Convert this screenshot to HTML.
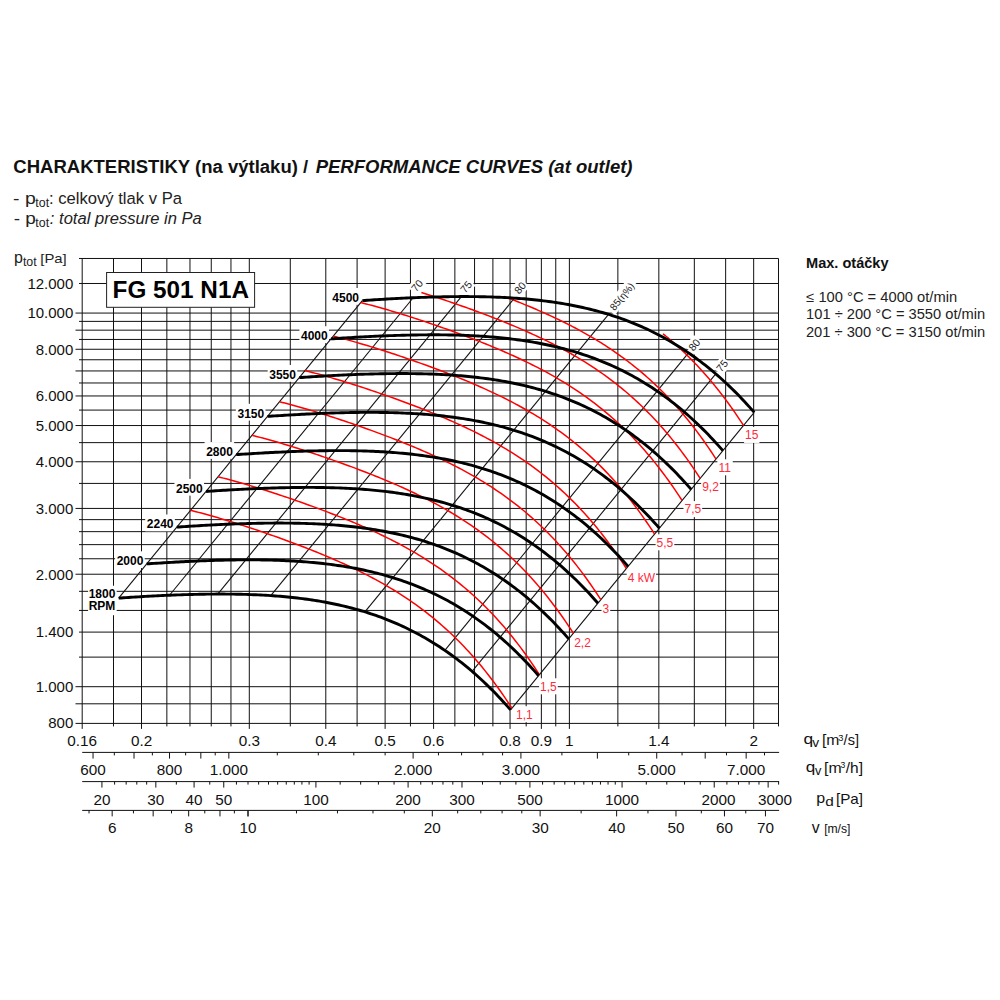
<!DOCTYPE html>
<html><head><meta charset="utf-8"><style>html,body{margin:0;padding:0;background:#fff;}svg{display:block;}</style></head>
<body><svg width="1000" height="1000" viewBox="0 0 1000 1000" font-family="'Liberation Sans', sans-serif">
<rect width="1000" height="1000" fill="#fff"/>
<g stroke="#111" stroke-width="1" shape-rendering="auto"><line x1="82.19" y1="258.47" x2="82.19" y2="728.90"/><line x1="113.50" y1="258.47" x2="113.50" y2="726.40"/><line x1="141.51" y1="258.47" x2="141.51" y2="728.90"/><line x1="166.85" y1="258.47" x2="166.85" y2="726.40"/><line x1="189.98" y1="258.47" x2="189.98" y2="726.40"/><line x1="211.26" y1="258.47" x2="211.26" y2="726.40"/><line x1="230.96" y1="258.47" x2="230.96" y2="726.40"/><line x1="249.30" y1="258.47" x2="249.30" y2="728.90"/><line x1="290.29" y1="258.47" x2="290.29" y2="726.40"/><line x1="325.79" y1="258.47" x2="325.79" y2="728.90"/><line x1="357.10" y1="258.47" x2="357.10" y2="726.40"/><line x1="385.11" y1="258.47" x2="385.11" y2="728.90"/><line x1="410.45" y1="258.47" x2="410.45" y2="726.40"/><line x1="433.58" y1="258.47" x2="433.58" y2="728.90"/><line x1="454.86" y1="258.47" x2="454.86" y2="726.40"/><line x1="474.56" y1="258.47" x2="474.56" y2="726.40"/><line x1="492.90" y1="258.47" x2="492.90" y2="726.40"/><line x1="510.06" y1="258.47" x2="510.06" y2="728.90"/><line x1="526.18" y1="258.47" x2="526.18" y2="726.40"/><line x1="541.37" y1="258.47" x2="541.37" y2="728.90"/><line x1="555.75" y1="258.47" x2="555.75" y2="726.40"/><line x1="569.38" y1="258.47" x2="569.38" y2="728.90"/><line x1="617.86" y1="258.47" x2="617.86" y2="726.40"/><line x1="658.84" y1="258.47" x2="658.84" y2="728.90"/><line x1="694.34" y1="258.47" x2="694.34" y2="726.40"/><line x1="725.65" y1="258.47" x2="725.65" y2="726.40"/><line x1="753.66" y1="258.47" x2="753.66" y2="728.90"/><line x1="778.50" y1="258.47" x2="778.50" y2="726.40"/><line x1="79.0" y1="258.47" x2="778.50" y2="258.47"/><line x1="79.0" y1="283.49" x2="778.50" y2="283.49"/><line x1="75.5" y1="313.07" x2="778.50" y2="313.07"/><line x1="79.0" y1="321.39" x2="778.50" y2="321.39"/><line x1="75.5" y1="330.17" x2="778.50" y2="330.17"/><line x1="79.0" y1="339.44" x2="778.50" y2="339.44"/><line x1="75.5" y1="349.28" x2="778.50" y2="349.28"/><line x1="79.0" y1="359.75" x2="778.50" y2="359.75"/><line x1="75.5" y1="370.95" x2="778.50" y2="370.95"/><line x1="79.0" y1="382.97" x2="778.50" y2="382.97"/><line x1="75.5" y1="395.96" x2="778.50" y2="395.96"/><line x1="79.0" y1="410.08" x2="778.50" y2="410.08"/><line x1="75.5" y1="425.54" x2="778.50" y2="425.54"/><line x1="79.0" y1="442.64" x2="778.50" y2="442.64"/><line x1="75.5" y1="461.75" x2="778.50" y2="461.75"/><line x1="79.0" y1="483.42" x2="778.50" y2="483.42"/><line x1="75.5" y1="508.43" x2="778.50" y2="508.43"/><line x1="79.0" y1="519.63" x2="778.50" y2="519.63"/><line x1="79.0" y1="531.65" x2="778.50" y2="531.65"/><line x1="79.0" y1="544.64" x2="778.50" y2="544.64"/><line x1="79.0" y1="558.76" x2="778.50" y2="558.76"/><line x1="75.5" y1="574.23" x2="778.50" y2="574.23"/><line x1="79.0" y1="591.32" x2="778.50" y2="591.32"/><line x1="79.0" y1="610.43" x2="778.50" y2="610.43"/><line x1="79.0" y1="632.10" x2="778.50" y2="632.10"/><line x1="79.0" y1="657.12" x2="778.50" y2="657.12"/><line x1="75.5" y1="686.70" x2="778.50" y2="686.70"/><line x1="75.5" y1="703.80" x2="778.50" y2="703.80"/><line x1="75.5" y1="723.40" x2="778.50" y2="723.40"/></g>
<g stroke="#111" stroke-width="1"><line x1="82.19" y1="752.4" x2="779.10" y2="752.4"/><line x1="82.19" y1="781.6" x2="779.10" y2="781.6"/><line x1="82.19" y1="810.4" x2="779.10" y2="810.4"/><line x1="93.04" y1="752.4" x2="93.04" y2="758.6"/><line x1="114.32" y1="752.4" x2="114.32" y2="755.4"/><line x1="134.02" y1="752.4" x2="134.02" y2="758.6"/><line x1="152.36" y1="752.4" x2="152.36" y2="755.4"/><line x1="169.52" y1="752.4" x2="169.52" y2="758.6"/><line x1="185.64" y1="752.4" x2="185.64" y2="755.4"/><line x1="200.83" y1="752.4" x2="200.83" y2="758.6"/><line x1="215.21" y1="752.4" x2="215.21" y2="755.4"/><line x1="228.84" y1="752.4" x2="228.84" y2="758.6"/><line x1="277.31" y1="752.4" x2="277.31" y2="755.4"/><line x1="318.30" y1="752.4" x2="318.30" y2="755.4"/><line x1="353.80" y1="752.4" x2="353.80" y2="755.4"/><line x1="385.11" y1="752.4" x2="385.11" y2="755.4"/><line x1="413.12" y1="752.4" x2="413.12" y2="758.6"/><line x1="438.46" y1="752.4" x2="438.46" y2="755.4"/><line x1="461.59" y1="752.4" x2="461.59" y2="755.4"/><line x1="482.87" y1="752.4" x2="482.87" y2="755.4"/><line x1="502.57" y1="752.4" x2="502.57" y2="755.4"/><line x1="520.91" y1="752.4" x2="520.91" y2="758.6"/><line x1="561.90" y1="752.4" x2="561.90" y2="755.4"/><line x1="597.39" y1="752.4" x2="597.39" y2="758.6"/><line x1="628.71" y1="752.4" x2="628.71" y2="755.4"/><line x1="656.72" y1="752.4" x2="656.72" y2="758.6"/><line x1="682.06" y1="752.4" x2="682.06" y2="755.4"/><line x1="705.19" y1="752.4" x2="705.19" y2="758.6"/><line x1="726.47" y1="752.4" x2="726.47" y2="755.4"/><line x1="746.17" y1="752.4" x2="746.17" y2="758.6"/><line x1="764.51" y1="752.4" x2="764.51" y2="755.4"/><line x1="101.93" y1="781.6" x2="101.93" y2="787.6"/><line x1="114.60" y1="781.6" x2="114.60" y2="784.6"/><line x1="126.17" y1="781.6" x2="126.17" y2="784.6"/><line x1="136.81" y1="781.6" x2="136.81" y2="784.6"/><line x1="146.67" y1="781.6" x2="146.67" y2="784.6"/><line x1="155.84" y1="781.6" x2="155.84" y2="787.6"/><line x1="176.34" y1="781.6" x2="176.34" y2="784.6"/><line x1="194.09" y1="781.6" x2="194.09" y2="787.6"/><line x1="209.75" y1="781.6" x2="209.75" y2="784.6"/><line x1="223.76" y1="781.6" x2="223.76" y2="787.6"/><line x1="236.43" y1="781.6" x2="236.43" y2="784.6"/><line x1="248.00" y1="781.6" x2="248.00" y2="784.6"/><line x1="258.64" y1="781.6" x2="258.64" y2="784.6"/><line x1="268.50" y1="781.6" x2="268.50" y2="784.6"/><line x1="277.67" y1="781.6" x2="277.67" y2="784.6"/><line x1="286.25" y1="781.6" x2="286.25" y2="784.6"/><line x1="294.31" y1="781.6" x2="294.31" y2="784.6"/><line x1="301.91" y1="781.6" x2="301.91" y2="784.6"/><line x1="309.10" y1="781.6" x2="309.10" y2="784.6"/><line x1="315.92" y1="781.6" x2="315.92" y2="787.6"/><line x1="340.16" y1="781.6" x2="340.16" y2="784.6"/><line x1="360.66" y1="781.6" x2="360.66" y2="784.6"/><line x1="378.41" y1="781.6" x2="378.41" y2="784.6"/><line x1="394.07" y1="781.6" x2="394.07" y2="784.6"/><line x1="408.08" y1="781.6" x2="408.08" y2="787.6"/><line x1="420.75" y1="781.6" x2="420.75" y2="784.6"/><line x1="432.32" y1="781.6" x2="432.32" y2="784.6"/><line x1="442.96" y1="781.6" x2="442.96" y2="784.6"/><line x1="452.82" y1="781.6" x2="452.82" y2="784.6"/><line x1="461.99" y1="781.6" x2="461.99" y2="787.6"/><line x1="482.49" y1="781.6" x2="482.49" y2="784.6"/><line x1="500.24" y1="781.6" x2="500.24" y2="784.6"/><line x1="515.90" y1="781.6" x2="515.90" y2="784.6"/><line x1="529.91" y1="781.6" x2="529.91" y2="787.6"/><line x1="542.58" y1="781.6" x2="542.58" y2="784.6"/><line x1="554.15" y1="781.6" x2="554.15" y2="784.6"/><line x1="564.79" y1="781.6" x2="564.79" y2="784.6"/><line x1="574.65" y1="781.6" x2="574.65" y2="784.6"/><line x1="583.82" y1="781.6" x2="583.82" y2="784.6"/><line x1="592.40" y1="781.6" x2="592.40" y2="784.6"/><line x1="600.46" y1="781.6" x2="600.46" y2="784.6"/><line x1="608.06" y1="781.6" x2="608.06" y2="784.6"/><line x1="615.25" y1="781.6" x2="615.25" y2="784.6"/><line x1="622.07" y1="781.6" x2="622.07" y2="787.6"/><line x1="646.31" y1="781.6" x2="646.31" y2="784.6"/><line x1="666.81" y1="781.6" x2="666.81" y2="784.6"/><line x1="684.56" y1="781.6" x2="684.56" y2="784.6"/><line x1="700.22" y1="781.6" x2="700.22" y2="784.6"/><line x1="714.23" y1="781.6" x2="714.23" y2="787.6"/><line x1="726.90" y1="781.6" x2="726.90" y2="784.6"/><line x1="738.47" y1="781.6" x2="738.47" y2="784.6"/><line x1="749.11" y1="781.6" x2="749.11" y2="784.6"/><line x1="758.97" y1="781.6" x2="758.97" y2="784.6"/><line x1="768.14" y1="781.6" x2="768.14" y2="787.6"/><line x1="778.60" y1="781.6" x2="778.60" y2="784.6"/><line x1="89.02" y1="810.4" x2="89.02" y2="813.4"/><line x1="112.16" y1="810.4" x2="112.16" y2="816.4"/><line x1="133.45" y1="810.4" x2="133.45" y2="813.4"/><line x1="153.15" y1="810.4" x2="153.15" y2="816.4"/><line x1="171.50" y1="810.4" x2="171.50" y2="813.4"/><line x1="188.66" y1="810.4" x2="188.66" y2="816.4"/><line x1="204.78" y1="810.4" x2="204.78" y2="813.4"/><line x1="219.98" y1="810.4" x2="219.98" y2="816.4"/><line x1="234.36" y1="810.4" x2="234.36" y2="813.4"/><line x1="248.00" y1="810.4" x2="248.00" y2="816.4"/><line x1="248.00" y1="810.4" x2="248.00" y2="816.4"/><line x1="296.48" y1="810.4" x2="296.48" y2="813.4"/><line x1="337.47" y1="810.4" x2="337.47" y2="813.4"/><line x1="372.98" y1="810.4" x2="372.98" y2="813.4"/><line x1="404.30" y1="810.4" x2="404.30" y2="813.4"/><line x1="432.32" y1="810.4" x2="432.32" y2="816.4"/><line x1="457.67" y1="810.4" x2="457.67" y2="813.4"/><line x1="480.80" y1="810.4" x2="480.80" y2="813.4"/><line x1="502.09" y1="810.4" x2="502.09" y2="813.4"/><line x1="521.79" y1="810.4" x2="521.79" y2="813.4"/><line x1="540.14" y1="810.4" x2="540.14" y2="816.4"/><line x1="581.13" y1="810.4" x2="581.13" y2="813.4"/><line x1="616.64" y1="810.4" x2="616.64" y2="816.4"/><line x1="647.96" y1="810.4" x2="647.96" y2="813.4"/><line x1="675.98" y1="810.4" x2="675.98" y2="816.4"/><line x1="701.32" y1="810.4" x2="701.32" y2="813.4"/><line x1="724.46" y1="810.4" x2="724.46" y2="816.4"/><line x1="745.75" y1="810.4" x2="745.75" y2="813.4"/><line x1="765.45" y1="810.4" x2="765.45" y2="816.4"/></g>
<rect x="106.6" y="272.5" width="148" height="34.8" fill="#fff" stroke="#222" stroke-width="1"/>
<text x="112.6" y="298" font-size="24.3" font-weight="bold" fill="#000">FG 501 N1A</text>
<g fill="#fff"><rect x="330.73" y="288.01" width="29.60" height="16.80"/><rect x="299.41" y="326.25" width="29.60" height="16.80"/><rect x="267.67" y="365.00" width="29.60" height="16.80"/><rect x="235.88" y="403.81" width="29.60" height="16.80"/><rect x="204.56" y="442.05" width="29.60" height="16.80"/><rect x="174.43" y="478.85" width="29.60" height="16.80"/><rect x="145.23" y="514.50" width="29.60" height="16.80"/><rect x="115.09" y="551.30" width="29.60" height="16.80"/><rect x="88.07" y="585.71" width="28.60" height="29.50"/></g>
<g fill="#fff"><rect x="514.99" y="706.20" width="18.68" height="16.0"/><rect x="539.09" y="678.30" width="18.68" height="16.0"/><rect x="573.20" y="634.60" width="18.68" height="16.0"/><rect x="601.54" y="600.50" width="8.67" height="16.0"/><rect x="626.72" y="569.50" width="29.33" height="16.0"/><rect x="655.62" y="534.30" width="18.68" height="16.0"/><rect x="683.48" y="501.10" width="18.68" height="16.0"/><rect x="701.14" y="478.30" width="18.68" height="16.0"/><rect x="717.39" y="459.30" width="15.35" height="16.0"/><rect x="744.09" y="426.95" width="15.35" height="16.0"/></g>
<g font-size="10.5" fill="#222"><g transform="translate(417.10,285.60) rotate(-50.68)"><rect x="-7.34" y="-6.5" width="14.68" height="13" fill="#fff"/><text x="0" y="3.8" text-anchor="middle" font-size="10.5">70</text></g><g transform="translate(466.00,286.80) rotate(-50.68)"><rect x="-7.34" y="-6.5" width="14.68" height="13" fill="#fff"/><text x="0" y="3.8" text-anchor="middle" font-size="10.5">75</text></g><g transform="translate(520.00,287.80) rotate(-50.68)"><rect x="-7.34" y="-6.5" width="14.68" height="13" fill="#fff"/><text x="0" y="3.8" text-anchor="middle" font-size="10.5">80</text></g><g transform="translate(621.75,296.25) rotate(-50.68)"><rect x="-18.82" y="-6.5" width="37.65" height="13" fill="#fff"/><text x="0" y="3.8" text-anchor="middle" font-size="10.0">85(&#951;%)</text></g><g transform="translate(694.25,344.85) rotate(-50.68)"><rect x="-7.34" y="-6.5" width="14.68" height="13" fill="#fff"/><text x="0" y="3.8" text-anchor="middle" font-size="10.5">80</text></g><g transform="translate(722.00,365.70) rotate(-50.68)"><rect x="-7.34" y="-6.5" width="14.68" height="13" fill="#fff"/><text x="0" y="3.8" text-anchor="middle" font-size="10.5">75</text></g></g>
<g stroke="#111" stroke-width="1.1" fill="none"><line x1="362.33" y1="300.61" x2="118.67" y2="598.11"/><line x1="413.17" y1="297.73" x2="169.51" y2="595.23"/><line x1="461.38" y1="296.57" x2="217.72" y2="594.07"/><line x1="514.43" y1="298.10" x2="270.77" y2="595.60"/><line x1="608.56" y1="314.37" x2="364.90" y2="611.87"/><line x1="688.50" y1="352.87" x2="444.84" y2="650.37"/><line x1="715.76" y1="373.88" x2="472.10" y2="671.38"/><line x1="754.23" y1="412.40" x2="510.58" y2="709.90"/></g>
<g stroke="#ff0000" stroke-width="1.5" fill="none"><path d="M190.57,510.32 L193.25,510.99 L195.93,511.67 L198.61,512.37 L201.28,513.08 L203.96,513.81 L206.64,514.54 L209.32,515.29 L212.00,516.05 L214.67,516.81 L217.35,517.59 L220.03,518.38 L222.71,519.18 L225.39,519.99 L228.06,520.80 L230.74,521.63 L233.42,522.46 L236.10,523.30 L238.78,524.15 L241.45,525.01 L244.13,525.87 L246.81,526.74 L249.49,527.62 L252.17,528.51 L254.84,529.41 L257.52,530.31 L260.20,531.22 L262.88,532.13 L265.56,533.05 L268.23,533.98 L270.91,534.92 L273.59,535.86 L276.27,536.82 L278.94,537.77 L281.62,538.74 L284.30,539.71 L286.98,540.69 L289.66,541.68 L292.33,542.68 L295.01,543.69 L297.69,544.70 L300.37,545.72 L303.05,546.75 L305.72,547.79 L308.40,548.84 L311.08,549.90 L313.76,550.97 L316.44,552.05 L319.11,553.14 L321.79,554.25 L324.47,555.36 L327.15,556.49 L329.83,557.63 L332.50,558.78 L335.18,559.94 L337.86,561.12 L340.54,562.32 L343.22,563.53 L345.89,564.75 L348.57,565.99 L351.25,567.25 L353.93,568.53 L356.61,569.82 L359.28,571.14 L361.96,572.47 L364.64,573.82 L367.32,575.19 L370.00,576.59 L372.67,578.01 L375.35,579.45 L378.03,580.91 L380.71,582.41 L383.39,583.92 L386.06,585.46 L388.74,587.03 L391.42,588.63 L394.10,590.26 L396.77,591.92 L399.45,593.61 L402.13,595.33 L404.81,597.08 L407.49,598.87 L410.16,600.69 L412.84,602.55 L415.52,604.45 L418.20,606.39 L420.88,608.36 L423.55,610.38 L426.23,612.44 L428.91,614.54 L431.59,616.68 L434.27,618.87 L436.94,621.11 L439.62,623.39 L442.30,625.73 L444.98,628.11 L447.66,630.55 L450.33,633.04 L453.01,635.58 L455.69,638.18 L458.37,640.84 L461.05,643.55 L463.72,646.33 L466.40,649.16 L469.08,652.06 L471.76,655.02 L474.44,658.05 L477.11,661.15 L479.79,664.31 L482.47,667.55 L485.15,670.86 L487.83,674.24 L490.50,677.69 L493.18,681.23 L495.86,684.84 L498.54,688.53 L501.21,692.30 L503.89,696.16 L506.57,700.10 L509.25,704.13 L511.93,708.25"/><path d="M218.06,476.75 L220.74,477.42 L223.42,478.11 L226.10,478.81 L228.78,479.52 L231.45,480.24 L234.13,480.98 L236.81,481.72 L239.49,482.48 L242.17,483.25 L244.84,484.03 L247.52,484.81 L250.20,485.61 L252.88,486.42 L255.56,487.23 L258.23,488.06 L260.91,488.89 L263.59,489.73 L266.27,490.58 L268.95,491.44 L271.62,492.31 L274.30,493.18 L276.98,494.06 L279.66,494.94 L282.34,495.84 L285.01,496.74 L287.69,497.65 L290.37,498.56 L293.05,499.49 L295.73,500.42 L298.40,501.35 L301.08,502.30 L303.76,503.25 L306.44,504.21 L309.11,505.17 L311.79,506.15 L314.47,507.13 L317.15,508.12 L319.83,509.11 L322.50,510.12 L325.18,511.13 L327.86,512.15 L330.54,513.19 L333.22,514.23 L335.89,515.28 L338.57,516.33 L341.25,517.40 L343.93,518.49 L346.61,519.58 L349.28,520.68 L351.96,521.79 L354.64,522.92 L357.32,524.06 L360.00,525.21 L362.67,526.38 L365.35,527.56 L368.03,528.75 L370.71,529.96 L373.39,531.19 L376.06,532.43 L378.74,533.69 L381.42,534.96 L384.10,536.26 L386.78,537.57 L389.45,538.90 L392.13,540.25 L394.81,541.63 L397.49,543.02 L400.17,544.44 L402.84,545.88 L405.52,547.35 L408.20,548.84 L410.88,550.35 L413.55,551.90 L416.23,553.47 L418.91,555.07 L421.59,556.69 L424.27,558.35 L426.94,560.04 L429.62,561.76 L432.30,563.52 L434.98,565.30 L437.66,567.13 L440.33,568.99 L443.01,570.89 L445.69,572.82 L448.37,574.80 L451.05,576.81 L453.72,578.87 L456.40,580.97 L459.08,583.12 L461.76,585.31 L464.44,587.54 L467.11,589.83 L469.79,592.16 L472.47,594.55 L475.15,596.98 L477.83,599.47 L480.50,602.01 L483.18,604.61 L485.86,607.27 L488.54,609.98 L491.22,612.76 L493.89,615.59 L496.57,618.49 L499.25,621.46 L501.93,624.49 L504.61,627.58 L507.28,630.75 L509.96,633.98 L512.64,637.29 L515.32,640.67 L517.99,644.13 L520.67,647.66 L523.35,651.27 L526.03,654.96 L528.71,658.74 L531.38,662.60 L534.06,666.54 L536.74,670.57 L539.42,674.69"/><path d="M252.01,435.30 L254.69,435.97 L257.37,436.66 L260.05,437.36 L262.72,438.07 L265.40,438.79 L268.08,439.53 L270.76,440.27 L273.44,441.03 L276.11,441.80 L278.79,442.58 L281.47,443.36 L284.15,444.16 L286.83,444.97 L289.50,445.78 L292.18,446.61 L294.86,447.44 L297.54,448.28 L300.22,449.13 L302.89,449.99 L305.57,450.86 L308.25,451.73 L310.93,452.61 L313.61,453.49 L316.28,454.39 L318.96,455.29 L321.64,456.20 L324.32,457.11 L327.00,458.04 L329.67,458.97 L332.35,459.90 L335.03,460.85 L337.71,461.80 L340.39,462.76 L343.06,463.72 L345.74,464.70 L348.42,465.68 L351.10,466.67 L353.77,467.66 L356.45,468.67 L359.13,469.68 L361.81,470.70 L364.49,471.74 L367.16,472.78 L369.84,473.83 L372.52,474.89 L375.20,475.95 L377.88,477.04 L380.55,478.13 L383.23,479.23 L385.91,480.34 L388.59,481.47 L391.27,482.61 L393.94,483.76 L396.62,484.93 L399.30,486.11 L401.98,487.30 L404.66,488.51 L407.33,489.74 L410.01,490.98 L412.69,492.24 L415.37,493.51 L418.05,494.81 L420.72,496.12 L423.40,497.45 L426.08,498.80 L428.76,500.18 L431.44,501.57 L434.11,502.99 L436.79,504.43 L439.47,505.90 L442.15,507.39 L444.83,508.90 L447.50,510.45 L450.18,512.02 L452.86,513.62 L455.54,515.24 L458.21,516.90 L460.89,518.59 L463.57,520.31 L466.25,522.07 L468.93,523.85 L471.60,525.68 L474.28,527.54 L476.96,529.44 L479.64,531.37 L482.32,533.35 L484.99,535.36 L487.67,537.42 L490.35,539.52 L493.03,541.67 L495.71,543.86 L498.38,546.09 L501.06,548.38 L503.74,550.71 L506.42,553.10 L509.10,555.53 L511.77,558.02 L514.45,560.56 L517.13,563.16 L519.81,565.82 L522.49,568.53 L525.16,571.31 L527.84,574.14 L530.52,577.04 L533.20,580.01 L535.88,583.04 L538.55,586.13 L541.23,589.30 L543.91,592.53 L546.59,595.84 L549.27,599.22 L551.94,602.68 L554.62,606.21 L557.30,609.82 L559.98,613.51 L562.66,617.29 L565.33,621.15 L568.01,625.09 L570.69,629.12 L573.37,633.24"/><path d="M279.50,401.73 L282.18,402.40 L284.86,403.09 L287.54,403.79 L290.22,404.50 L292.89,405.22 L295.57,405.96 L298.25,406.71 L300.93,407.46 L303.61,408.23 L306.28,409.01 L308.96,409.80 L311.64,410.60 L314.32,411.40 L317.00,412.22 L319.67,413.04 L322.35,413.88 L325.03,414.72 L327.71,415.57 L330.39,416.42 L333.06,417.29 L335.74,418.16 L338.42,419.04 L341.10,419.93 L343.78,420.82 L346.45,421.72 L349.13,422.63 L351.81,423.55 L354.49,424.47 L357.17,425.40 L359.84,426.34 L362.52,427.28 L365.20,428.23 L367.88,429.19 L370.56,430.16 L373.23,431.13 L375.91,432.11 L378.59,433.10 L381.27,434.10 L383.94,435.10 L386.62,436.12 L389.30,437.14 L391.98,438.17 L394.66,439.21 L397.33,440.26 L400.01,441.32 L402.69,442.39 L405.37,443.47 L408.05,444.56 L410.72,445.66 L413.40,446.78 L416.08,447.90 L418.76,449.04 L421.44,450.19 L424.11,451.36 L426.79,452.54 L429.47,453.73 L432.15,454.94 L434.83,456.17 L437.50,457.41 L440.18,458.67 L442.86,459.94 L445.54,461.24 L448.22,462.55 L450.89,463.88 L453.57,465.24 L456.25,466.61 L458.93,468.01 L461.61,469.42 L464.28,470.87 L466.96,472.33 L469.64,473.82 L472.32,475.34 L475.00,476.88 L477.67,478.45 L480.35,480.05 L483.03,481.68 L485.71,483.33 L488.38,485.02 L491.06,486.74 L493.74,488.50 L496.42,490.29 L499.10,492.11 L501.77,493.97 L504.45,495.87 L507.13,497.80 L509.81,499.78 L512.49,501.80 L515.16,503.85 L517.84,505.95 L520.52,508.10 L523.20,510.29 L525.88,512.53 L528.55,514.81 L531.23,517.14 L533.91,519.53 L536.59,521.96 L539.27,524.45 L541.94,527.00 L544.62,529.60 L547.30,532.25 L549.98,534.97 L552.66,537.74 L555.33,540.58 L558.01,543.48 L560.69,546.44 L563.37,549.47 L566.05,552.56 L568.72,555.73 L571.40,558.97 L574.08,562.27 L576.76,565.65 L579.44,569.11 L582.11,572.64 L584.79,576.26 L587.47,579.95 L590.15,583.72 L592.82,587.58 L595.50,591.52 L598.18,595.55 L600.86,599.67"/><path d="M305.00,370.60 L307.68,371.27 L310.36,371.96 L313.04,372.65 L315.72,373.37 L318.39,374.09 L321.07,374.82 L323.75,375.57 L326.43,376.33 L329.11,377.10 L331.78,377.87 L334.46,378.66 L337.14,379.46 L339.82,380.27 L342.50,381.08 L345.17,381.91 L347.85,382.74 L350.53,383.58 L353.21,384.43 L355.89,385.29 L358.56,386.15 L361.24,387.03 L363.92,387.91 L366.60,388.79 L369.28,389.69 L371.95,390.59 L374.63,391.50 L377.31,392.41 L379.99,393.34 L382.67,394.27 L385.34,395.20 L388.02,396.15 L390.70,397.10 L393.38,398.06 L396.06,399.02 L398.73,399.99 L401.41,400.98 L404.09,401.96 L406.77,402.96 L409.44,403.97 L412.12,404.98 L414.80,406.00 L417.48,407.03 L420.16,408.07 L422.83,409.12 L425.51,410.18 L428.19,411.25 L430.87,412.33 L433.55,413.42 L436.22,414.53 L438.90,415.64 L441.58,416.77 L444.26,417.91 L446.94,419.06 L449.61,420.22 L452.29,421.40 L454.97,422.60 L457.65,423.81 L460.33,425.03 L463.00,426.28 L465.68,427.53 L468.36,428.81 L471.04,430.10 L473.72,431.42 L476.39,432.75 L479.07,434.10 L481.75,435.48 L484.43,436.87 L487.11,438.29 L489.78,439.73 L492.46,441.20 L495.14,442.69 L497.82,444.20 L500.50,445.75 L503.17,447.32 L505.85,448.91 L508.53,450.54 L511.21,452.20 L513.88,453.89 L516.56,455.61 L519.24,457.36 L521.92,459.15 L524.60,460.98 L527.27,462.84 L529.95,464.73 L532.63,466.67 L535.31,468.64 L537.99,470.66 L540.66,472.72 L543.34,474.82 L546.02,476.96 L548.70,479.15 L551.38,481.39 L554.05,483.68 L556.73,486.01 L559.41,488.39 L562.09,490.83 L564.77,493.32 L567.44,495.86 L570.12,498.46 L572.80,501.12 L575.48,503.83 L578.16,506.61 L580.83,509.44 L583.51,512.34 L586.19,515.30 L588.87,518.33 L591.55,521.43 L594.22,524.60 L596.90,527.83 L599.58,531.14 L602.26,534.52 L604.94,537.98 L607.61,541.51 L610.29,545.12 L612.97,548.81 L615.65,552.59 L618.32,556.44 L621.00,560.39 L623.68,564.42 L626.36,568.53"/><path d="M333.23,336.13 L335.91,336.81 L338.59,337.49 L341.27,338.19 L343.94,338.90 L346.62,339.62 L349.30,340.36 L351.98,341.11 L354.66,341.86 L357.33,342.63 L360.01,343.41 L362.69,344.20 L365.37,345.00 L368.05,345.80 L370.72,346.62 L373.40,347.44 L376.08,348.28 L378.76,349.12 L381.44,349.97 L384.11,350.82 L386.79,351.69 L389.47,352.56 L392.15,353.44 L394.83,354.33 L397.50,355.22 L400.18,356.12 L402.86,357.03 L405.54,357.95 L408.22,358.87 L410.89,359.80 L413.57,360.74 L416.25,361.68 L418.93,362.63 L421.60,363.59 L424.28,364.56 L426.96,365.53 L429.64,366.51 L432.32,367.50 L434.99,368.50 L437.67,369.50 L440.35,370.52 L443.03,371.54 L445.71,372.57 L448.38,373.61 L451.06,374.66 L453.74,375.72 L456.42,376.79 L459.10,377.87 L461.77,378.96 L464.45,380.06 L467.13,381.18 L469.81,382.30 L472.49,383.44 L475.16,384.59 L477.84,385.76 L480.52,386.94 L483.20,388.13 L485.88,389.34 L488.55,390.57 L491.23,391.81 L493.91,393.07 L496.59,394.34 L499.27,395.64 L501.94,396.95 L504.62,398.28 L507.30,399.64 L509.98,401.01 L512.66,402.41 L515.33,403.82 L518.01,405.27 L520.69,406.73 L523.37,408.22 L526.04,409.74 L528.72,411.28 L531.40,412.85 L534.08,414.45 L536.76,416.08 L539.43,417.73 L542.11,419.42 L544.79,421.14 L547.47,422.90 L550.15,424.69 L552.82,426.51 L555.50,428.37 L558.18,430.27 L560.86,432.20 L563.54,434.18 L566.21,436.20 L568.89,438.25 L571.57,440.35 L574.25,442.50 L576.93,444.69 L579.60,446.93 L582.28,449.21 L584.96,451.54 L587.64,453.93 L590.32,456.37 L592.99,458.85 L595.67,461.40 L598.35,464.00 L601.03,466.65 L603.71,469.37 L606.38,472.14 L609.06,474.98 L611.74,477.88 L614.42,480.84 L617.10,483.87 L619.77,486.97 L622.45,490.13 L625.13,493.37 L627.81,496.67 L630.48,500.05 L633.16,503.51 L635.84,507.04 L638.52,510.66 L641.20,514.35 L643.87,518.12 L646.55,521.98 L649.23,525.92 L651.91,529.95 L654.59,534.07"/><path d="M360.72,302.57 L363.40,303.24 L366.08,303.92 L368.76,304.62 L371.44,305.33 L374.11,306.06 L376.79,306.79 L379.47,307.54 L382.15,308.30 L384.83,309.06 L387.50,309.84 L390.18,310.63 L392.86,311.43 L395.54,312.24 L398.22,313.05 L400.89,313.88 L403.57,314.71 L406.25,315.55 L408.93,316.40 L411.61,317.26 L414.28,318.12 L416.96,318.99 L419.64,319.87 L422.32,320.76 L425.00,321.66 L427.67,322.56 L430.35,323.47 L433.03,324.38 L435.71,325.30 L438.38,326.23 L441.06,327.17 L443.74,328.11 L446.42,329.07 L449.10,330.02 L451.77,330.99 L454.45,331.96 L457.13,332.94 L459.81,333.93 L462.49,334.93 L465.16,335.93 L467.84,336.95 L470.52,337.97 L473.20,339.00 L475.88,340.04 L478.55,341.09 L481.23,342.15 L483.91,343.22 L486.59,344.30 L489.27,345.39 L491.94,346.50 L494.62,347.61 L497.30,348.74 L499.98,349.88 L502.66,351.03 L505.33,352.19 L508.01,353.37 L510.69,354.57 L513.37,355.78 L516.05,357.00 L518.72,358.24 L521.40,359.50 L524.08,360.78 L526.76,362.07 L529.44,363.38 L532.11,364.72 L534.79,366.07 L537.47,367.44 L540.15,368.84 L542.82,370.26 L545.50,371.70 L548.18,373.16 L550.86,374.65 L553.54,376.17 L556.21,377.71 L558.89,379.28 L561.57,380.88 L564.25,382.51 L566.93,384.17 L569.60,385.86 L572.28,387.58 L574.96,389.33 L577.64,391.12 L580.32,392.94 L582.99,394.80 L585.67,396.70 L588.35,398.64 L591.03,400.61 L593.71,402.63 L596.38,404.69 L599.06,406.79 L601.74,408.93 L604.42,411.12 L607.10,413.36 L609.77,415.64 L612.45,417.98 L615.13,420.36 L617.81,422.80 L620.49,425.29 L623.16,427.83 L625.84,430.43 L628.52,433.09 L631.20,435.80 L633.88,438.57 L636.55,441.41 L639.23,444.31 L641.91,447.27 L644.59,450.30 L647.26,453.40 L649.94,456.56 L652.62,459.80 L655.30,463.11 L657.98,466.49 L660.65,469.94 L663.33,473.48 L666.01,477.09 L668.69,480.78 L671.37,484.55 L674.04,488.41 L676.72,492.35 L679.40,496.38 L682.08,500.50"/><path d="M421.40,292.51 L423.72,293.24 L426.05,293.97 L428.37,294.71 L430.69,295.46 L433.02,296.21 L435.34,296.97 L437.66,297.73 L439.99,298.50 L442.31,299.28 L444.63,300.06 L446.96,300.84 L449.28,301.63 L451.60,302.43 L453.93,303.23 L456.25,304.04 L458.57,304.85 L460.89,305.67 L463.22,306.49 L465.54,307.32 L467.86,308.15 L470.19,308.99 L472.51,309.83 L474.83,310.68 L477.16,311.54 L479.48,312.40 L481.80,313.27 L484.13,314.15 L486.45,315.03 L488.77,315.92 L491.10,316.81 L493.42,317.71 L495.74,318.62 L498.07,319.54 L500.39,320.46 L502.71,321.39 L505.04,322.33 L507.36,323.28 L509.68,324.23 L512.01,325.20 L514.33,326.17 L516.65,327.15 L518.98,328.15 L521.30,329.15 L523.62,330.16 L525.95,331.18 L528.27,332.22 L530.59,333.26 L532.91,334.32 L535.24,335.39 L537.56,336.47 L539.88,337.57 L542.21,338.68 L544.53,339.80 L546.85,340.93 L549.18,342.08 L551.50,343.25 L553.82,344.43 L556.15,345.63 L558.47,346.84 L560.79,348.07 L563.12,349.32 L565.44,350.59 L567.76,351.87 L570.09,353.17 L572.41,354.50 L574.73,355.84 L577.06,357.21 L579.38,358.59 L581.70,360.00 L584.03,361.43 L586.35,362.88 L588.67,364.36 L591.00,365.86 L593.32,367.39 L595.64,368.94 L597.97,370.52 L600.29,372.12 L602.61,373.76 L604.94,375.42 L607.26,377.11 L609.58,378.83 L611.90,380.59 L614.23,382.37 L616.55,384.19 L618.87,386.04 L621.20,387.92 L623.52,389.84 L625.84,391.79 L628.17,393.78 L630.49,395.81 L632.81,397.87 L635.14,399.97 L637.46,402.12 L639.78,404.30 L642.11,406.52 L644.43,408.79 L646.75,411.10 L649.08,413.45 L651.40,415.85 L653.72,418.30 L656.05,420.79 L658.37,423.33 L660.69,425.92 L663.02,428.56 L665.34,431.25 L667.66,433.99 L669.99,436.78 L672.31,439.63 L674.63,442.53 L676.96,445.49 L679.28,448.51 L681.60,451.58 L683.92,454.71 L686.25,457.91 L688.57,461.16 L690.89,464.48 L693.22,467.86 L695.54,471.30 L697.86,474.81 L700.19,478.39"/><path d="M504.20,296.42 L505.97,297.10 L507.73,297.78 L509.50,298.46 L511.26,299.15 L513.03,299.85 L514.79,300.55 L516.56,301.25 L518.32,301.96 L520.09,302.67 L521.85,303.39 L523.62,304.11 L525.38,304.84 L527.15,305.57 L528.91,306.30 L530.68,307.05 L532.44,307.79 L534.21,308.55 L535.97,309.31 L537.74,310.07 L539.50,310.84 L541.27,311.62 L543.03,312.40 L544.80,313.19 L546.57,313.99 L548.33,314.79 L550.10,315.60 L551.86,316.42 L553.63,317.24 L555.39,318.07 L557.16,318.91 L558.92,319.76 L560.69,320.61 L562.45,321.48 L564.22,322.35 L565.98,323.23 L567.75,324.12 L569.51,325.02 L571.28,325.92 L573.04,326.84 L574.81,327.77 L576.57,328.70 L578.34,329.65 L580.10,330.60 L581.87,331.57 L583.63,332.55 L585.40,333.54 L587.17,334.54 L588.93,335.55 L590.70,336.57 L592.46,337.61 L594.23,338.66 L595.99,339.72 L597.76,340.79 L599.52,341.88 L601.29,342.98 L603.05,344.09 L604.82,345.22 L606.58,346.36 L608.35,347.51 L610.11,348.68 L611.88,349.87 L613.64,351.07 L615.41,352.29 L617.17,353.52 L618.94,354.77 L620.70,356.03 L622.47,357.31 L624.24,358.61 L626.00,359.93 L627.77,361.26 L629.53,362.62 L631.30,363.99 L633.06,365.38 L634.83,366.79 L636.59,368.22 L638.36,369.67 L640.12,371.13 L641.89,372.62 L643.65,374.13 L645.42,375.67 L647.18,377.22 L648.95,378.80 L650.71,380.39 L652.48,382.01 L654.24,383.66 L656.01,385.33 L657.77,387.02 L659.54,388.73 L661.30,390.48 L663.07,392.24 L664.84,394.03 L666.60,395.85 L668.37,397.69 L670.13,399.56 L671.90,401.46 L673.66,403.39 L675.43,405.34 L677.19,407.32 L678.96,409.34 L680.72,411.38 L682.49,413.45 L684.25,415.55 L686.02,417.68 L687.78,419.84 L689.55,422.03 L691.31,424.26 L693.08,426.52 L694.84,428.81 L696.61,431.13 L698.37,433.49 L700.14,435.89 L701.90,438.31 L703.67,440.78 L705.44,443.28 L707.20,445.81 L708.97,448.38 L710.73,450.99 L712.50,453.64 L714.26,456.33 L716.03,459.05"/><path d="M663.00,333.77 L663.67,334.31 L664.34,334.86 L665.01,335.41 L665.68,335.96 L666.35,336.52 L667.03,337.08 L667.70,337.64 L668.37,338.20 L669.04,338.77 L669.71,339.34 L670.38,339.91 L671.05,340.49 L671.72,341.07 L672.39,341.65 L673.06,342.24 L673.74,342.82 L674.41,343.42 L675.08,344.01 L675.75,344.61 L676.42,345.21 L677.09,345.82 L677.76,346.42 L678.43,347.03 L679.10,347.65 L679.77,348.27 L680.45,348.89 L681.12,349.51 L681.79,350.14 L682.46,350.77 L683.13,351.41 L683.80,352.05 L684.47,352.69 L685.14,353.33 L685.81,353.98 L686.48,354.63 L687.16,355.29 L687.83,355.95 L688.50,356.61 L689.17,357.28 L689.84,357.95 L690.51,358.62 L691.18,359.30 L691.85,359.98 L692.52,360.67 L693.19,361.36 L693.87,362.05 L694.54,362.74 L695.21,363.45 L695.88,364.15 L696.55,364.86 L697.22,365.57 L697.89,366.29 L698.56,367.00 L699.23,367.73 L699.90,368.46 L700.58,369.19 L701.25,369.92 L701.92,370.66 L702.59,371.41 L703.26,372.16 L703.93,372.91 L704.60,373.66 L705.27,374.42 L705.94,375.19 L706.61,375.96 L707.29,376.73 L707.96,377.51 L708.63,378.29 L709.30,379.08 L709.97,379.87 L710.64,380.66 L711.31,381.46 L711.98,382.26 L712.65,383.07 L713.32,383.88 L714.00,384.70 L714.67,385.52 L715.34,386.35 L716.01,387.18 L716.68,388.01 L717.35,388.85 L718.02,389.70 L718.69,390.55 L719.36,391.40 L720.03,392.26 L720.70,393.12 L721.38,393.99 L722.05,394.86 L722.72,395.74 L723.39,396.62 L724.06,397.51 L724.73,398.40 L725.40,399.30 L726.07,400.20 L726.74,401.11 L727.41,402.02 L728.09,402.94 L728.76,403.86 L729.43,404.79 L730.10,405.72 L730.77,406.66 L731.44,407.60 L732.11,408.55 L732.78,409.50 L733.45,410.46 L734.12,411.43 L734.80,412.39 L735.47,413.37 L736.14,414.35 L736.81,415.33 L737.48,416.32 L738.15,417.32 L738.82,418.32 L739.49,419.33 L740.16,420.34 L740.83,421.36 L741.51,422.38 L742.18,423.41 L742.85,424.45 L743.52,425.49"/></g>
<g stroke="#000" stroke-width="2.9" fill="none" stroke-linejoin="round"><path d="M362.33,300.61 L364.78,300.44 L367.23,300.27 L369.68,300.11 L372.13,299.95 L374.58,299.79 L377.03,299.63 L379.48,299.48 L381.93,299.33 L384.38,299.19 L386.82,299.05 L389.27,298.91 L391.72,298.77 L394.17,298.64 L396.62,298.51 L399.07,298.39 L401.52,298.27 L403.97,298.15 L406.42,298.03 L408.87,297.92 L411.32,297.81 L413.77,297.71 L416.22,297.61 L418.67,297.51 L421.12,297.42 L423.57,297.33 L426.01,297.25 L428.46,297.17 L430.91,297.09 L433.36,297.02 L435.81,296.96 L438.26,296.90 L440.71,296.84 L443.16,296.79 L445.61,296.74 L448.06,296.70 L450.51,296.66 L452.96,296.63 L455.41,296.61 L457.86,296.59 L460.31,296.57 L462.76,296.57 L465.21,296.56 L467.65,296.57 L470.10,296.58 L472.55,296.60 L475.00,296.62 L477.45,296.65 L479.90,296.69 L482.35,296.74 L484.80,296.79 L487.25,296.85 L489.70,296.92 L492.15,297.00 L494.60,297.08 L497.05,297.18 L499.50,297.28 L501.95,297.39 L504.40,297.51 L506.85,297.64 L509.29,297.77 L511.74,297.92 L514.19,298.08 L516.64,298.25 L519.09,298.43 L521.54,298.62 L523.99,298.82 L526.44,299.03 L528.89,299.25 L531.34,299.48 L533.79,299.73 L536.24,299.98 L538.69,300.25 L541.14,300.54 L543.59,300.83 L546.04,301.14 L548.48,301.46 L550.93,301.80 L553.38,302.15 L555.83,302.51 L558.28,302.89 L560.73,303.28 L563.18,303.69 L565.63,304.11 L568.08,304.55 L570.53,305.01 L572.98,305.48 L575.43,305.96 L577.88,306.47 L580.33,306.99 L582.78,307.53 L585.23,308.09 L587.68,308.67 L590.12,309.26 L592.57,309.87 L595.02,310.51 L597.47,311.16 L599.92,311.83 L602.37,312.52 L604.82,313.24 L607.27,313.97 L609.72,314.73 L612.17,315.51 L614.62,316.30 L617.07,317.13 L619.52,317.97 L621.97,318.84 L624.42,319.73 L626.87,320.65 L629.32,321.59 L631.76,322.56 L634.21,323.55 L636.66,324.56 L639.11,325.61 L641.56,326.67 L644.01,327.77 L646.46,328.89 L648.91,330.04 L651.36,331.22 L653.81,332.43 L656.26,333.67 L658.71,334.94 L661.16,336.23 L663.61,337.56 L666.06,338.92 L668.51,340.30 L670.95,341.73 L673.40,343.18 L675.85,344.66 L678.30,346.18 L680.75,347.73 L683.20,349.32 L685.65,350.94 L688.10,352.60 L690.55,354.29 L693.00,356.01 L695.45,357.78 L697.90,359.58 L700.35,361.42 L702.80,363.29 L705.25,365.21 L707.70,367.16 L710.15,369.16 L712.59,371.19 L715.04,373.26 L717.49,375.38 L719.94,377.53 L722.39,379.73 L724.84,381.97 L727.29,384.26 L729.74,386.59 L732.19,388.96 L734.64,391.38 L737.09,393.84 L739.54,396.35 L741.99,398.91 L744.44,401.51 L746.89,404.16 L749.34,406.86 L751.79,409.61 L754.23,412.40"/><path d="M331.01,338.85 L333.46,338.68 L335.91,338.51 L338.36,338.35 L340.81,338.19 L343.26,338.03 L345.71,337.88 L348.16,337.72 L350.61,337.58 L353.05,337.43 L355.50,337.29 L357.95,337.15 L360.40,337.02 L362.85,336.88 L365.30,336.75 L367.75,336.63 L370.20,336.51 L372.65,336.39 L375.10,336.27 L377.55,336.16 L380.00,336.06 L382.45,335.95 L384.90,335.85 L387.35,335.76 L389.80,335.66 L392.24,335.58 L394.69,335.49 L397.14,335.41 L399.59,335.34 L402.04,335.27 L404.49,335.20 L406.94,335.14 L409.39,335.08 L411.84,335.03 L414.29,334.98 L416.74,334.94 L419.19,334.91 L421.64,334.87 L424.09,334.85 L426.54,334.83 L428.99,334.82 L431.44,334.81 L433.88,334.81 L436.33,334.81 L438.78,334.82 L441.23,334.84 L443.68,334.86 L446.13,334.90 L448.58,334.93 L451.03,334.98 L453.48,335.03 L455.93,335.09 L458.38,335.16 L460.83,335.24 L463.28,335.32 L465.73,335.42 L468.18,335.52 L470.63,335.63 L473.08,335.75 L475.52,335.88 L477.97,336.02 L480.42,336.16 L482.87,336.32 L485.32,336.49 L487.77,336.67 L490.22,336.86 L492.67,337.06 L495.12,337.27 L497.57,337.49 L500.02,337.72 L502.47,337.97 L504.92,338.23 L507.37,338.50 L509.82,338.78 L512.27,339.07 L514.71,339.38 L517.16,339.70 L519.61,340.04 L522.06,340.39 L524.51,340.75 L526.96,341.13 L529.41,341.52 L531.86,341.93 L534.31,342.35 L536.76,342.79 L539.21,343.25 L541.66,343.72 L544.11,344.21 L546.56,344.71 L549.01,345.23 L551.46,345.77 L553.91,346.33 L556.35,346.91 L558.80,347.50 L561.25,348.12 L563.70,348.75 L566.15,349.40 L568.60,350.07 L571.05,350.77 L573.50,351.48 L575.95,352.21 L578.40,352.97 L580.85,353.75 L583.30,354.55 L585.75,355.37 L588.20,356.21 L590.65,357.08 L593.10,357.97 L595.55,358.89 L597.99,359.83 L600.44,360.80 L602.89,361.79 L605.34,362.80 L607.79,363.85 L610.24,364.92 L612.69,366.01 L615.14,367.14 L617.59,368.29 L620.04,369.47 L622.49,370.67 L624.94,371.91 L627.39,373.18 L629.84,374.47 L632.29,375.80 L634.74,377.16 L637.18,378.55 L639.63,379.97 L642.08,381.42 L644.53,382.90 L646.98,384.42 L649.43,385.98 L651.88,387.56 L654.33,389.18 L656.78,390.84 L659.23,392.53 L661.68,394.26 L664.13,396.02 L666.58,397.82 L669.03,399.66 L671.48,401.54 L673.93,403.45 L676.38,405.40 L678.82,407.40 L681.27,409.43 L683.72,411.50 L686.17,413.62 L688.62,415.78 L691.07,417.97 L693.52,420.22 L695.97,422.50 L698.42,424.83 L700.87,427.20 L703.32,429.62 L705.77,432.08 L708.22,434.59 L710.67,437.15 L713.12,439.75 L715.57,442.40 L718.02,445.10 L720.46,447.85 L722.91,450.64"/><path d="M299.27,377.60 L301.72,377.43 L304.17,377.26 L306.62,377.10 L309.07,376.94 L311.52,376.78 L313.97,376.63 L316.42,376.47 L318.87,376.33 L321.32,376.18 L323.77,376.04 L326.22,375.90 L328.67,375.76 L331.12,375.63 L333.56,375.50 L336.01,375.38 L338.46,375.26 L340.91,375.14 L343.36,375.02 L345.81,374.91 L348.26,374.80 L350.71,374.70 L353.16,374.60 L355.61,374.50 L358.06,374.41 L360.51,374.32 L362.96,374.24 L365.41,374.16 L367.86,374.09 L370.31,374.02 L372.76,373.95 L375.20,373.89 L377.65,373.83 L380.10,373.78 L382.55,373.73 L385.00,373.69 L387.45,373.65 L389.90,373.62 L392.35,373.60 L394.80,373.58 L397.25,373.57 L399.70,373.56 L402.15,373.56 L404.60,373.56 L407.05,373.57 L409.50,373.59 L411.95,373.61 L414.40,373.64 L416.84,373.68 L419.29,373.73 L421.74,373.78 L424.19,373.84 L426.64,373.91 L429.09,373.99 L431.54,374.07 L433.99,374.17 L436.44,374.27 L438.89,374.38 L441.34,374.50 L443.79,374.63 L446.24,374.77 L448.69,374.91 L451.14,375.07 L453.59,375.24 L456.03,375.42 L458.48,375.61 L460.93,375.81 L463.38,376.02 L465.83,376.24 L468.28,376.47 L470.73,376.72 L473.18,376.98 L475.63,377.25 L478.08,377.53 L480.53,377.82 L482.98,378.13 L485.43,378.45 L487.88,378.79 L490.33,379.14 L492.78,379.50 L495.23,379.88 L497.67,380.27 L500.12,380.68 L502.57,381.10 L505.02,381.54 L507.47,382.00 L509.92,382.47 L512.37,382.96 L514.82,383.46 L517.27,383.98 L519.72,384.52 L522.17,385.08 L524.62,385.66 L527.07,386.25 L529.52,386.86 L531.97,387.50 L534.42,388.15 L536.87,388.82 L539.31,389.51 L541.76,390.23 L544.21,390.96 L546.66,391.72 L549.11,392.50 L551.56,393.30 L554.01,394.12 L556.46,394.96 L558.91,395.83 L561.36,396.72 L563.81,397.64 L566.26,398.58 L568.71,399.55 L571.16,400.54 L573.61,401.55 L576.06,402.60 L578.50,403.67 L580.95,404.76 L583.40,405.88 L585.85,407.04 L588.30,408.22 L590.75,409.42 L593.20,410.66 L595.65,411.93 L598.10,413.22 L600.55,414.55 L603.00,415.91 L605.45,417.30 L607.90,418.72 L610.35,420.17 L612.80,421.65 L615.25,423.17 L617.70,424.72 L620.14,426.31 L622.59,427.93 L625.04,429.59 L627.49,431.28 L629.94,433.01 L632.39,434.77 L634.84,436.57 L637.29,438.41 L639.74,440.28 L642.19,442.20 L644.64,444.15 L647.09,446.15 L649.54,448.18 L651.99,450.25 L654.44,452.37 L656.89,454.52 L659.34,456.72 L661.78,458.96 L664.23,461.25 L666.68,463.58 L669.13,465.95 L671.58,468.37 L674.03,470.83 L676.48,473.34 L678.93,475.90 L681.38,478.50 L683.83,481.15 L686.28,483.85 L688.73,486.60 L691.18,489.39"/><path d="M267.48,416.41 L269.93,416.24 L272.38,416.07 L274.83,415.91 L277.28,415.75 L279.73,415.59 L282.18,415.44 L284.63,415.29 L287.08,415.14 L289.53,414.99 L291.98,414.85 L294.43,414.71 L296.88,414.58 L299.33,414.45 L301.78,414.32 L304.23,414.19 L306.67,414.07 L309.12,413.95 L311.57,413.84 L314.02,413.73 L316.47,413.62 L318.92,413.51 L321.37,413.41 L323.82,413.32 L326.27,413.23 L328.72,413.14 L331.17,413.05 L333.62,412.97 L336.07,412.90 L338.52,412.83 L340.97,412.76 L343.42,412.70 L345.86,412.64 L348.31,412.59 L350.76,412.55 L353.21,412.50 L355.66,412.47 L358.11,412.44 L360.56,412.41 L363.01,412.39 L365.46,412.38 L367.91,412.37 L370.36,412.37 L372.81,412.37 L375.26,412.38 L377.71,412.40 L380.16,412.43 L382.61,412.46 L385.06,412.50 L387.50,412.54 L389.95,412.60 L392.40,412.66 L394.85,412.73 L397.30,412.80 L399.75,412.89 L402.20,412.98 L404.65,413.08 L407.10,413.19 L409.55,413.31 L412.00,413.44 L414.45,413.58 L416.90,413.73 L419.35,413.89 L421.80,414.05 L424.25,414.23 L426.70,414.42 L429.14,414.62 L431.59,414.83 L434.04,415.05 L436.49,415.29 L438.94,415.53 L441.39,415.79 L443.84,416.06 L446.29,416.34 L448.74,416.64 L451.19,416.94 L453.64,417.27 L456.09,417.60 L458.54,417.95 L460.99,418.31 L463.44,418.69 L465.89,419.09 L468.33,419.49 L470.78,419.92 L473.23,420.36 L475.68,420.81 L478.13,421.28 L480.58,421.77 L483.03,422.27 L485.48,422.80 L487.93,423.34 L490.38,423.89 L492.83,424.47 L495.28,425.06 L497.73,425.68 L500.18,426.31 L502.63,426.96 L505.08,427.64 L507.53,428.33 L509.97,429.04 L512.42,429.78 L514.87,430.53 L517.32,431.31 L519.77,432.11 L522.22,432.93 L524.67,433.78 L527.12,434.65 L529.57,435.54 L532.02,436.45 L534.47,437.39 L536.92,438.36 L539.37,439.35 L541.82,440.37 L544.27,441.41 L546.72,442.48 L549.17,443.58 L551.61,444.70 L554.06,445.85 L556.51,447.03 L558.96,448.24 L561.41,449.47 L563.86,450.74 L566.31,452.04 L568.76,453.36 L571.21,454.72 L573.66,456.11 L576.11,457.53 L578.56,458.98 L581.01,460.47 L583.46,461.99 L585.91,463.54 L588.36,465.12 L590.80,466.75 L593.25,468.40 L595.70,470.09 L598.15,471.82 L600.60,473.58 L603.05,475.38 L605.50,477.22 L607.95,479.10 L610.40,481.01 L612.85,482.97 L615.30,484.96 L617.75,486.99 L620.20,489.07 L622.65,491.18 L625.10,493.34 L627.55,495.54 L630.00,497.78 L632.44,500.06 L634.89,502.39 L637.34,504.76 L639.79,507.18 L642.24,509.65 L644.69,512.15 L647.14,514.71 L649.59,517.31 L652.04,519.96 L654.49,522.66 L656.94,525.41 L659.39,528.21"/><path d="M236.16,454.65 L238.61,454.48 L241.06,454.32 L243.51,454.15 L245.96,453.99 L248.41,453.83 L250.86,453.68 L253.31,453.53 L255.76,453.38 L258.21,453.24 L260.66,453.09 L263.11,452.96 L265.56,452.82 L268.01,452.69 L270.45,452.56 L272.90,452.43 L275.35,452.31 L277.80,452.19 L280.25,452.08 L282.70,451.97 L285.15,451.86 L287.60,451.76 L290.05,451.66 L292.50,451.56 L294.95,451.47 L297.40,451.38 L299.85,451.30 L302.30,451.22 L304.75,451.14 L307.20,451.07 L309.65,451.00 L312.09,450.94 L314.54,450.89 L316.99,450.83 L319.44,450.79 L321.89,450.75 L324.34,450.71 L326.79,450.68 L329.24,450.65 L331.69,450.63 L334.14,450.62 L336.59,450.61 L339.04,450.61 L341.49,450.62 L343.94,450.63 L346.39,450.64 L348.84,450.67 L351.29,450.70 L353.73,450.74 L356.18,450.78 L358.63,450.84 L361.08,450.90 L363.53,450.97 L365.98,451.04 L368.43,451.13 L370.88,451.22 L373.33,451.32 L375.78,451.43 L378.23,451.55 L380.68,451.68 L383.13,451.82 L385.58,451.97 L388.03,452.13 L390.48,452.29 L392.92,452.47 L395.37,452.66 L397.82,452.86 L400.27,453.07 L402.72,453.29 L405.17,453.53 L407.62,453.77 L410.07,454.03 L412.52,454.30 L414.97,454.58 L417.42,454.88 L419.87,455.19 L422.32,455.51 L424.77,455.84 L427.22,456.19 L429.67,456.56 L432.12,456.93 L434.56,457.33 L437.01,457.73 L439.46,458.16 L441.91,458.60 L444.36,459.05 L446.81,459.52 L449.26,460.01 L451.71,460.52 L454.16,461.04 L456.61,461.58 L459.06,462.14 L461.51,462.71 L463.96,463.31 L466.41,463.92 L468.86,464.55 L471.31,465.21 L473.76,465.88 L476.20,466.57 L478.65,467.28 L481.10,468.02 L483.55,468.77 L486.00,469.55 L488.45,470.35 L490.90,471.17 L493.35,472.02 L495.80,472.89 L498.25,473.78 L500.70,474.70 L503.15,475.64 L505.60,476.60 L508.05,477.59 L510.50,478.61 L512.95,479.65 L515.39,480.72 L517.84,481.82 L520.29,482.94 L522.74,484.09 L525.19,485.27 L527.64,486.48 L530.09,487.72 L532.54,488.98 L534.99,490.28 L537.44,491.60 L539.89,492.96 L542.34,494.35 L544.79,495.77 L547.24,497.22 L549.69,498.71 L552.14,500.23 L554.59,501.78 L557.03,503.37 L559.48,504.99 L561.93,506.64 L564.38,508.33 L566.83,510.06 L569.28,511.82 L571.73,513.63 L574.18,515.46 L576.63,517.34 L579.08,519.25 L581.53,521.21 L583.98,523.20 L586.43,525.23 L588.88,527.31 L591.33,529.42 L593.78,531.58 L596.23,533.78 L598.67,536.02 L601.12,538.31 L603.57,540.63 L606.02,543.01 L608.47,545.42 L610.92,547.89 L613.37,550.40 L615.82,552.95 L618.27,555.55 L620.72,558.21 L623.17,560.90 L625.62,563.65 L628.07,566.45"/><path d="M206.03,491.45 L208.48,491.28 L210.93,491.11 L213.38,490.95 L215.82,490.79 L218.27,490.63 L220.72,490.48 L223.17,490.32 L225.62,490.18 L228.07,490.03 L230.52,489.89 L232.97,489.75 L235.42,489.62 L237.87,489.48 L240.32,489.35 L242.77,489.23 L245.22,489.11 L247.67,488.99 L250.12,488.87 L252.57,488.76 L255.02,488.66 L257.46,488.55 L259.91,488.45 L262.36,488.36 L264.81,488.26 L267.26,488.18 L269.71,488.09 L272.16,488.01 L274.61,487.94 L277.06,487.87 L279.51,487.80 L281.96,487.74 L284.41,487.68 L286.86,487.63 L289.31,487.58 L291.76,487.54 L294.21,487.51 L296.65,487.47 L299.10,487.45 L301.55,487.43 L304.00,487.42 L306.45,487.41 L308.90,487.41 L311.35,487.41 L313.80,487.42 L316.25,487.44 L318.70,487.46 L321.15,487.50 L323.60,487.53 L326.05,487.58 L328.50,487.63 L330.95,487.69 L333.40,487.76 L335.85,487.84 L338.29,487.92 L340.74,488.02 L343.19,488.12 L345.64,488.23 L348.09,488.35 L350.54,488.48 L352.99,488.62 L355.44,488.76 L357.89,488.92 L360.34,489.09 L362.79,489.27 L365.24,489.46 L367.69,489.66 L370.14,489.87 L372.59,490.09 L375.04,490.32 L377.49,490.57 L379.93,490.83 L382.38,491.10 L384.83,491.38 L387.28,491.67 L389.73,491.98 L392.18,492.30 L394.63,492.64 L397.08,492.99 L399.53,493.35 L401.98,493.73 L404.43,494.12 L406.88,494.53 L409.33,494.95 L411.78,495.39 L414.23,495.85 L416.68,496.32 L419.12,496.81 L421.57,497.31 L424.02,497.83 L426.47,498.37 L428.92,498.93 L431.37,499.51 L433.82,500.10 L436.27,500.72 L438.72,501.35 L441.17,502.00 L443.62,502.67 L446.07,503.37 L448.52,504.08 L450.97,504.81 L453.42,505.57 L455.87,506.35 L458.32,507.15 L460.76,507.97 L463.21,508.81 L465.66,509.68 L468.11,510.57 L470.56,511.49 L473.01,512.43 L475.46,513.40 L477.91,514.39 L480.36,515.40 L482.81,516.45 L485.26,517.52 L487.71,518.61 L490.16,519.74 L492.61,520.89 L495.06,522.07 L497.51,523.27 L499.96,524.51 L502.40,525.78 L504.85,527.07 L507.30,528.40 L509.75,529.76 L512.20,531.15 L514.65,532.57 L517.10,534.02 L519.55,535.50 L522.00,537.02 L524.45,538.58 L526.90,540.16 L529.35,541.78 L531.80,543.44 L534.25,545.13 L536.70,546.86 L539.15,548.62 L541.60,550.42 L544.04,552.26 L546.49,554.14 L548.94,556.05 L551.39,558.00 L553.84,560.00 L556.29,562.03 L558.74,564.10 L561.19,566.22 L563.64,568.38 L566.09,570.57 L568.54,572.82 L570.99,575.10 L573.44,577.43 L575.89,579.80 L578.34,582.22 L580.79,584.68 L583.23,587.19 L585.68,589.75 L588.13,592.35 L590.58,595.00 L593.03,597.70 L595.48,600.45 L597.93,603.24"/><path d="M176.83,527.10 L179.27,526.93 L181.72,526.77 L184.17,526.60 L186.62,526.44 L189.07,526.28 L191.52,526.13 L193.97,525.98 L196.42,525.83 L198.87,525.69 L201.32,525.54 L203.77,525.41 L206.22,525.27 L208.67,525.14 L211.12,525.01 L213.57,524.88 L216.02,524.76 L218.47,524.64 L220.91,524.53 L223.36,524.42 L225.81,524.31 L228.26,524.21 L230.71,524.11 L233.16,524.01 L235.61,523.92 L238.06,523.83 L240.51,523.75 L242.96,523.67 L245.41,523.59 L247.86,523.52 L250.31,523.45 L252.76,523.39 L255.21,523.34 L257.66,523.28 L260.10,523.24 L262.55,523.20 L265.00,523.16 L267.45,523.13 L269.90,523.10 L272.35,523.08 L274.80,523.07 L277.25,523.06 L279.70,523.06 L282.15,523.07 L284.60,523.08 L287.05,523.09 L289.50,523.12 L291.95,523.15 L294.40,523.19 L296.85,523.23 L299.30,523.29 L301.74,523.35 L304.19,523.42 L306.64,523.49 L309.09,523.58 L311.54,523.67 L313.99,523.77 L316.44,523.88 L318.89,524.00 L321.34,524.13 L323.79,524.27 L326.24,524.42 L328.69,524.58 L331.14,524.74 L333.59,524.92 L336.04,525.11 L338.49,525.31 L340.94,525.52 L343.38,525.74 L345.83,525.98 L348.28,526.22 L350.73,526.48 L353.18,526.75 L355.63,527.03 L358.08,527.33 L360.53,527.64 L362.98,527.96 L365.43,528.29 L367.88,528.64 L370.33,529.01 L372.78,529.38 L375.23,529.78 L377.68,530.18 L380.13,530.61 L382.57,531.05 L385.02,531.50 L387.47,531.97 L389.92,532.46 L392.37,532.97 L394.82,533.49 L397.27,534.03 L399.72,534.59 L402.17,535.16 L404.62,535.76 L407.07,536.37 L409.52,537.00 L411.97,537.65 L414.42,538.33 L416.87,539.02 L419.32,539.73 L421.77,540.47 L424.21,541.22 L426.66,542.00 L429.11,542.80 L431.56,543.62 L434.01,544.47 L436.46,545.34 L438.91,546.23 L441.36,547.15 L443.81,548.09 L446.26,549.05 L448.71,550.04 L451.16,551.06 L453.61,552.10 L456.06,553.17 L458.51,554.27 L460.96,555.39 L463.41,556.54 L465.85,557.72 L468.30,558.93 L470.75,560.17 L473.20,561.43 L475.65,562.73 L478.10,564.05 L480.55,565.41 L483.00,566.80 L485.45,568.22 L487.90,569.67 L490.35,571.16 L492.80,572.68 L495.25,574.23 L497.70,575.82 L500.15,577.44 L502.60,579.09 L505.04,580.78 L507.49,582.51 L509.94,584.27 L512.39,586.08 L514.84,587.91 L517.29,589.79 L519.74,591.70 L522.19,593.66 L524.64,595.65 L527.09,597.68 L529.54,599.76 L531.99,601.87 L534.44,604.03 L536.89,606.23 L539.34,608.47 L541.79,610.75 L544.24,613.08 L546.68,615.46 L549.13,617.87 L551.58,620.34 L554.03,622.85 L556.48,625.40 L558.93,628.00 L561.38,630.66 L563.83,633.35 L566.28,636.10 L568.73,638.90"/><path d="M146.69,563.90 L149.14,563.73 L151.59,563.56 L154.04,563.40 L156.49,563.24 L158.94,563.08 L161.39,562.93 L163.83,562.77 L166.28,562.63 L168.73,562.48 L171.18,562.34 L173.63,562.20 L176.08,562.07 L178.53,561.93 L180.98,561.80 L183.43,561.68 L185.88,561.56 L188.33,561.44 L190.78,561.32 L193.23,561.21 L195.68,561.11 L198.13,561.00 L200.58,560.90 L203.03,560.81 L205.47,560.71 L207.92,560.63 L210.37,560.54 L212.82,560.46 L215.27,560.39 L217.72,560.32 L220.17,560.25 L222.62,560.19 L225.07,560.13 L227.52,560.08 L229.97,560.03 L232.42,559.99 L234.87,559.96 L237.32,559.92 L239.77,559.90 L242.22,559.88 L244.67,559.87 L247.11,559.86 L249.56,559.86 L252.01,559.86 L254.46,559.87 L256.91,559.89 L259.36,559.91 L261.81,559.95 L264.26,559.98 L266.71,560.03 L269.16,560.08 L271.61,560.14 L274.06,560.21 L276.51,560.29 L278.96,560.37 L281.41,560.47 L283.86,560.57 L286.30,560.68 L288.75,560.80 L291.20,560.93 L293.65,561.07 L296.10,561.21 L298.55,561.37 L301.00,561.54 L303.45,561.72 L305.90,561.91 L308.35,562.11 L310.80,562.32 L313.25,562.54 L315.70,562.77 L318.15,563.02 L320.60,563.28 L323.05,563.55 L325.50,563.83 L327.94,564.12 L330.39,564.43 L332.84,564.75 L335.29,565.09 L337.74,565.44 L340.19,565.80 L342.64,566.18 L345.09,566.57 L347.54,566.98 L349.99,567.40 L352.44,567.84 L354.89,568.30 L357.34,568.77 L359.79,569.26 L362.24,569.76 L364.69,570.28 L367.14,570.82 L369.58,571.38 L372.03,571.96 L374.48,572.55 L376.93,573.17 L379.38,573.80 L381.83,574.45 L384.28,575.12 L386.73,575.82 L389.18,576.53 L391.63,577.26 L394.08,578.02 L396.53,578.80 L398.98,579.60 L401.43,580.42 L403.88,581.26 L406.33,582.13 L408.77,583.02 L411.22,583.94 L413.67,584.88 L416.12,585.85 L418.57,586.84 L421.02,587.85 L423.47,588.90 L425.92,589.97 L428.37,591.06 L430.82,592.19 L433.27,593.34 L435.72,594.52 L438.17,595.72 L440.62,596.96 L443.07,598.23 L445.52,599.52 L447.97,600.85 L450.41,602.21 L452.86,603.60 L455.31,605.02 L457.76,606.47 L460.21,607.95 L462.66,609.47 L465.11,611.03 L467.56,612.61 L470.01,614.23 L472.46,615.89 L474.91,617.58 L477.36,619.31 L479.81,621.07 L482.26,622.87 L484.71,624.71 L487.16,626.59 L489.61,628.50 L492.05,630.45 L494.50,632.45 L496.95,634.48 L499.40,636.55 L501.85,638.67 L504.30,640.83 L506.75,643.02 L509.20,645.27 L511.65,647.55 L514.10,649.88 L516.55,652.25 L519.00,654.67 L521.45,657.13 L523.90,659.64 L526.35,662.20 L528.80,664.80 L531.24,667.45 L533.69,670.15 L536.14,672.90 L538.59,675.69"/><path d="M118.67,598.11 L121.12,597.94 L123.57,597.77 L126.02,597.61 L128.47,597.45 L130.92,597.29 L133.37,597.13 L135.82,596.98 L138.27,596.83 L140.72,596.69 L143.17,596.55 L145.62,596.41 L148.06,596.27 L150.51,596.14 L152.96,596.01 L155.41,595.89 L157.86,595.77 L160.31,595.65 L162.76,595.53 L165.21,595.42 L167.66,595.31 L170.11,595.21 L172.56,595.11 L175.01,595.01 L177.46,594.92 L179.91,594.83 L182.36,594.75 L184.81,594.67 L187.26,594.59 L189.70,594.52 L192.15,594.46 L194.60,594.40 L197.05,594.34 L199.50,594.29 L201.95,594.24 L204.40,594.20 L206.85,594.16 L209.30,594.13 L211.75,594.11 L214.20,594.09 L216.65,594.07 L219.10,594.07 L221.55,594.06 L224.00,594.07 L226.45,594.08 L228.89,594.10 L231.34,594.12 L233.79,594.15 L236.24,594.19 L238.69,594.24 L241.14,594.29 L243.59,594.35 L246.04,594.42 L248.49,594.50 L250.94,594.58 L253.39,594.68 L255.84,594.78 L258.29,594.89 L260.74,595.01 L263.19,595.14 L265.64,595.27 L268.09,595.42 L270.53,595.58 L272.98,595.75 L275.43,595.93 L277.88,596.12 L280.33,596.32 L282.78,596.53 L285.23,596.75 L287.68,596.98 L290.13,597.23 L292.58,597.48 L295.03,597.75 L297.48,598.04 L299.93,598.33 L302.38,598.64 L304.83,598.96 L307.28,599.30 L309.73,599.65 L312.17,600.01 L314.62,600.39 L317.07,600.78 L319.52,601.19 L321.97,601.61 L324.42,602.05 L326.87,602.51 L329.32,602.98 L331.77,603.46 L334.22,603.97 L336.67,604.49 L339.12,605.03 L341.57,605.59 L344.02,606.17 L346.47,606.76 L348.92,607.37 L351.36,608.01 L353.81,608.66 L356.26,609.33 L358.71,610.02 L361.16,610.74 L363.61,611.47 L366.06,612.23 L368.51,613.00 L370.96,613.80 L373.41,614.63 L375.86,615.47 L378.31,616.34 L380.76,617.23 L383.21,618.15 L385.66,619.09 L388.11,620.06 L390.56,621.05 L393.00,622.06 L395.45,623.11 L397.90,624.17 L400.35,625.27 L402.80,626.39 L405.25,627.54 L407.70,628.72 L410.15,629.93 L412.60,631.17 L415.05,632.44 L417.50,633.73 L419.95,635.06 L422.40,636.42 L424.85,637.80 L427.30,639.23 L429.75,640.68 L432.20,642.16 L434.64,643.68 L437.09,645.23 L439.54,646.82 L441.99,648.44 L444.44,650.10 L446.89,651.79 L449.34,653.51 L451.79,655.28 L454.24,657.08 L456.69,658.92 L459.14,660.79 L461.59,662.71 L464.04,664.66 L466.49,666.66 L468.94,668.69 L471.39,670.76 L473.83,672.88 L476.28,675.03 L478.73,677.23 L481.18,679.47 L483.63,681.76 L486.08,684.09 L488.53,686.46 L490.98,688.88 L493.43,691.34 L495.88,693.85 L498.33,696.41 L500.78,699.01 L503.23,701.66 L505.68,704.36 L508.13,707.11 L510.58,709.90"/></g>
<g font-size="12" font-weight="bold" fill="#000"><text x="359.03" y="301.91" text-anchor="end">4500</text><text x="327.71" y="340.15" text-anchor="end">4000</text><text x="295.97" y="378.90" text-anchor="end">3550</text><text x="264.18" y="417.71" text-anchor="end">3150</text><text x="232.86" y="455.95" text-anchor="end">2800</text><text x="202.73" y="492.75" text-anchor="end">2500</text><text x="173.53" y="528.40" text-anchor="end">2240</text><text x="143.39" y="565.20" text-anchor="end">2000</text><text x="115.37" y="597.81" text-anchor="end">1800</text><text x="115.37" y="610.31" text-anchor="end">RPM</text></g>
<g font-size="12" fill="#ff2a3a"><text x="515.99" y="718.50">1,1</text><text x="540.09" y="690.60">1,5</text><text x="574.20" y="646.90">2,2</text><text x="602.54" y="612.80">3</text><text x="627.72" y="581.80">4 kW</text><text x="656.62" y="546.60">5,5</text><text x="684.48" y="513.40">7,5</text><text x="702.14" y="490.60">9,2</text><text x="718.39" y="471.60">11</text><text x="745.09" y="439.25">15</text></g>
<text x="82.19" y="746.40" font-size="15.3" text-anchor="middle" font-weight="normal" font-style="normal" fill="#111" >0.16</text><text x="141.51" y="746.40" font-size="15.3" text-anchor="middle" font-weight="normal" font-style="normal" fill="#111" >0.2</text><text x="249.30" y="746.40" font-size="15.3" text-anchor="middle" font-weight="normal" font-style="normal" fill="#111" >0.3</text><text x="325.79" y="746.40" font-size="15.3" text-anchor="middle" font-weight="normal" font-style="normal" fill="#111" >0.4</text><text x="385.11" y="746.40" font-size="15.3" text-anchor="middle" font-weight="normal" font-style="normal" fill="#111" >0.5</text><text x="433.58" y="746.40" font-size="15.3" text-anchor="middle" font-weight="normal" font-style="normal" fill="#111" >0.6</text><text x="510.06" y="746.40" font-size="15.3" text-anchor="middle" font-weight="normal" font-style="normal" fill="#111" >0.8</text><text x="541.37" y="746.40" font-size="15.3" text-anchor="middle" font-weight="normal" font-style="normal" fill="#111" >0.9</text><text x="569.38" y="746.40" font-size="15.3" text-anchor="middle" font-weight="normal" font-style="normal" fill="#111" >1</text><text x="658.84" y="746.40" font-size="15.3" text-anchor="middle" font-weight="normal" font-style="normal" fill="#111" >1.4</text><text x="753.66" y="746.40" font-size="15.3" text-anchor="middle" font-weight="normal" font-style="normal" fill="#111" >2</text><text x="93.04" y="775.30" font-size="15.3" text-anchor="middle" font-weight="normal" font-style="normal" fill="#111" >600</text><text x="169.52" y="775.30" font-size="15.3" text-anchor="middle" font-weight="normal" font-style="normal" fill="#111" >800</text><text x="228.84" y="775.30" font-size="15.3" text-anchor="middle" font-weight="normal" font-style="normal" fill="#111" >1.000</text><text x="413.12" y="775.30" font-size="15.3" text-anchor="middle" font-weight="normal" font-style="normal" fill="#111" >2.000</text><text x="520.91" y="775.30" font-size="15.3" text-anchor="middle" font-weight="normal" font-style="normal" fill="#111" >3.000</text><text x="656.72" y="775.30" font-size="15.3" text-anchor="middle" font-weight="normal" font-style="normal" fill="#111" >5.000</text><text x="746.17" y="775.30" font-size="15.3" text-anchor="middle" font-weight="normal" font-style="normal" fill="#111" >7.000</text><text x="101.93" y="804.50" font-size="15.3" text-anchor="middle" font-weight="normal" font-style="normal" fill="#111" >20</text><text x="155.84" y="804.50" font-size="15.3" text-anchor="middle" font-weight="normal" font-style="normal" fill="#111" >30</text><text x="194.09" y="804.50" font-size="15.3" text-anchor="middle" font-weight="normal" font-style="normal" fill="#111" >40</text><text x="223.76" y="804.50" font-size="15.3" text-anchor="middle" font-weight="normal" font-style="normal" fill="#111" >50</text><text x="315.92" y="804.50" font-size="15.3" text-anchor="middle" font-weight="normal" font-style="normal" fill="#111" >100</text><text x="408.08" y="804.50" font-size="15.3" text-anchor="middle" font-weight="normal" font-style="normal" fill="#111" >200</text><text x="461.99" y="804.50" font-size="15.3" text-anchor="middle" font-weight="normal" font-style="normal" fill="#111" >300</text><text x="529.91" y="804.50" font-size="15.3" text-anchor="middle" font-weight="normal" font-style="normal" fill="#111" >500</text><text x="622.07" y="804.50" font-size="15.3" text-anchor="middle" font-weight="normal" font-style="normal" fill="#111" >1000</text><text x="718.53" y="804.50" font-size="15.3" text-anchor="middle" font-weight="normal" font-style="normal" fill="#111" >2000</text><text x="775.04" y="804.50" font-size="15.3" text-anchor="middle" font-weight="normal" font-style="normal" fill="#111" >3000</text><text x="112.16" y="833.10" font-size="15.3" text-anchor="middle" font-weight="normal" font-style="normal" fill="#111" >6</text><text x="188.66" y="833.10" font-size="15.3" text-anchor="middle" font-weight="normal" font-style="normal" fill="#111" >8</text><text x="248.00" y="833.10" font-size="15.3" text-anchor="middle" font-weight="normal" font-style="normal" fill="#111" >10</text><text x="432.32" y="833.10" font-size="15.3" text-anchor="middle" font-weight="normal" font-style="normal" fill="#111" >20</text><text x="540.14" y="833.10" font-size="15.3" text-anchor="middle" font-weight="normal" font-style="normal" fill="#111" >30</text><text x="616.64" y="833.10" font-size="15.3" text-anchor="middle" font-weight="normal" font-style="normal" fill="#111" >40</text><text x="675.98" y="833.10" font-size="15.3" text-anchor="middle" font-weight="normal" font-style="normal" fill="#111" >50</text><text x="724.46" y="833.10" font-size="15.3" text-anchor="middle" font-weight="normal" font-style="normal" fill="#111" >60</text><text x="765.45" y="833.10" font-size="15.3" text-anchor="middle" font-weight="normal" font-style="normal" fill="#111" >70</text><text x="73.30" y="288.79" font-size="15.0" text-anchor="end" font-weight="normal" font-style="normal" fill="#111" >12.000</text><text x="73.30" y="318.37" font-size="15.0" text-anchor="end" font-weight="normal" font-style="normal" fill="#111" >10.000</text><text x="73.30" y="354.58" font-size="15.0" text-anchor="end" font-weight="normal" font-style="normal" fill="#111" >8.000</text><text x="73.30" y="401.26" font-size="15.0" text-anchor="end" font-weight="normal" font-style="normal" fill="#111" >6.000</text><text x="73.30" y="430.84" font-size="15.0" text-anchor="end" font-weight="normal" font-style="normal" fill="#111" >5.000</text><text x="73.30" y="467.05" font-size="15.0" text-anchor="end" font-weight="normal" font-style="normal" fill="#111" >4.000</text><text x="73.30" y="513.73" font-size="15.0" text-anchor="end" font-weight="normal" font-style="normal" fill="#111" >3.000</text><text x="73.30" y="579.53" font-size="15.0" text-anchor="end" font-weight="normal" font-style="normal" fill="#111" >2.000</text><text x="73.30" y="637.40" font-size="15.0" text-anchor="end" font-weight="normal" font-style="normal" fill="#111" >1.400</text><text x="73.30" y="692.00" font-size="15.0" text-anchor="end" font-weight="normal" font-style="normal" fill="#111" >1.000</text><text x="73.30" y="728.21" font-size="15.0" text-anchor="end" font-weight="normal" font-style="normal" fill="#111" >800</text>
<text x="13.34" y="173.40" font-size="18.45" font-weight="bold" font-style="normal" fill="#111" textLength="294.84" lengthAdjust="spacingAndGlyphs" >CHARAKTERISTIKY (na výtlaku) /</text><text x="315.67" y="173.40" font-size="18.45" font-weight="bold" font-style="italic" fill="#111" textLength="316.87" lengthAdjust="spacingAndGlyphs" >PERFORMANCE CURVES (at outlet)</text><text x="13.14" y="203.80" font-size="16.8" font-weight="normal" font-style="normal" fill="#222" textLength="22.68" lengthAdjust="spacingAndGlyphs" >- p</text><text x="35.31" y="207.20" font-size="12.5" font-weight="normal" font-style="normal" fill="#222" textLength="13.78" lengthAdjust="spacingAndGlyphs" >tot</text><text x="48.98" y="203.80" font-size="16.8" font-weight="normal" font-style="normal" fill="#222" textLength="133.02" lengthAdjust="spacingAndGlyphs" >: celkový tlak v Pa</text><text x="13.66" y="223.50" font-size="16.8" font-weight="normal" font-style="normal" fill="#222" textLength="22.14" lengthAdjust="spacingAndGlyphs" >- p</text><text x="35.31" y="227.00" font-size="12.5" font-weight="normal" font-style="normal" fill="#222" textLength="13.78" lengthAdjust="spacingAndGlyphs" >tot</text><text x="49.84" y="223.50" font-size="16.8" font-weight="normal" font-style="italic" fill="#222" textLength="151.92" lengthAdjust="spacingAndGlyphs" >: total pressure in Pa</text><text x="13.97" y="262.70" font-size="16.5" font-weight="normal" font-style="normal" fill="#222" textLength="8.90" lengthAdjust="spacingAndGlyphs" >p</text><text x="22.91" y="265.70" font-size="12.5" font-weight="normal" font-style="normal" fill="#222" textLength="13.78" lengthAdjust="spacingAndGlyphs" >tot</text><text x="40.34" y="262.70" font-size="13.4" font-weight="normal" font-style="normal" fill="#222" textLength="26.42" lengthAdjust="spacingAndGlyphs" >[Pa]</text><text x="806.03" y="267.50" font-size="14.6" font-weight="bold" font-style="normal" fill="#111" textLength="82.55" lengthAdjust="spacingAndGlyphs" >Max. otáčky</text><text x="806.25" y="301.80" font-size="14.3" font-weight="normal" font-style="normal" fill="#222" textLength="150.91" lengthAdjust="spacingAndGlyphs" >≤ 100 °C = 4000 ot/min</text><text x="806.08" y="319.40" font-size="14.3" font-weight="normal" font-style="normal" fill="#222" textLength="179.17" lengthAdjust="spacingAndGlyphs" >101 ÷ 200 °C = 3550 ot/min</text><text x="805.96" y="336.60" font-size="14.3" font-weight="normal" font-style="normal" fill="#222" textLength="179.29" lengthAdjust="spacingAndGlyphs" >201 ÷ 300 °C = 3150 ot/min</text><text x="803.47" y="744.30" font-size="15" font-weight="normal" font-style="normal" fill="#111" textLength="9.64" lengthAdjust="spacingAndGlyphs" >q</text><text x="812.35" y="746.60" font-size="12.5" font-weight="normal" font-style="normal" fill="#111" textLength="6.89" lengthAdjust="spacingAndGlyphs" >v</text><text x="821.98" y="745.40" font-size="14.8" font-weight="normal" font-style="normal" fill="#111" textLength="17.46" lengthAdjust="spacingAndGlyphs" >[m</text><text x="838.25" y="740.70" font-size="9.5" font-weight="normal" font-style="normal" fill="#111" textLength="5.16" lengthAdjust="spacingAndGlyphs" >3</text><text x="843.60" y="745.40" font-size="14.8" font-weight="normal" font-style="normal" fill="#111" textLength="15.34" lengthAdjust="spacingAndGlyphs" >/s]</text><text x="805.88" y="772.30" font-size="15" font-weight="normal" font-style="normal" fill="#111" textLength="9.51" lengthAdjust="spacingAndGlyphs" >q</text><text x="814.96" y="775.10" font-size="12.5" font-weight="normal" font-style="normal" fill="#111" textLength="6.39" lengthAdjust="spacingAndGlyphs" >v</text><text x="824.07" y="773.00" font-size="14.8" font-weight="normal" font-style="normal" fill="#111" textLength="17.57" lengthAdjust="spacingAndGlyphs" >[m</text><text x="840.57" y="767.60" font-size="9.5" font-weight="normal" font-style="normal" fill="#111" textLength="4.81" lengthAdjust="spacingAndGlyphs" >3</text><text x="845.80" y="773.00" font-size="14.8" font-weight="normal" font-style="normal" fill="#111" textLength="17.20" lengthAdjust="spacingAndGlyphs" >/h]</text><text x="816.17" y="803.00" font-size="15.5" font-weight="normal" font-style="normal" fill="#111" textLength="8.90" lengthAdjust="spacingAndGlyphs" >p</text><text x="825.26" y="806.30" font-size="13" font-weight="normal" font-style="normal" fill="#111" textLength="8.53" lengthAdjust="spacingAndGlyphs" >d</text><text x="835.92" y="803.90" font-size="14.2" font-weight="normal" font-style="normal" fill="#111" textLength="27.07" lengthAdjust="spacingAndGlyphs" >[Pa]</text><text x="811.75" y="833.00" font-size="17" font-weight="normal" font-style="normal" fill="#111" textLength="7.91" lengthAdjust="spacingAndGlyphs" >v</text><text x="824.13" y="833.00" font-size="12.5" font-weight="normal" font-style="normal" fill="#111" textLength="26.33" lengthAdjust="spacingAndGlyphs" >[m/s]</text>
</svg></body></html>
